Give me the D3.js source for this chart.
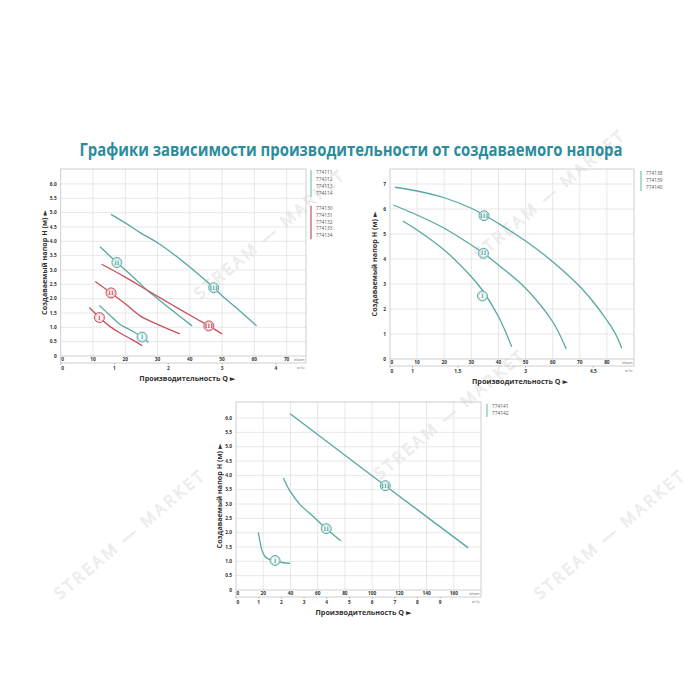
<!DOCTYPE html>
<html><head><meta charset="utf-8">
<script src="https://cdn.jsdelivr.net/npm/d3@7"></script>
<style>body{margin:0;background:#fff}svg{display:block}</style>
</head><body>
<svg id="c" width="700" height="700"></svg>
<script>
// ---------- DATA ----------
const titleText = "Графики зависимости производительности от создаваемого напора";
const yLabelText = "Создаваемый напор H (м) ►";
const xLabelText = "Производительность Q ►";
const unitLpm = "л/мин";
const unitM3h = "м³/ч";
const watermarkText = "STREAM — MARKET";

// Chart 1 (Q in l/min, H in m)
const c1LegendTeal = ["774111","774112","774113","774114"];
const c1LegendRed = ["774130","774131","774132","774133","774134"];
const c1YTicks = [0,0.5,1,1.5,2,2.5,3,3.5,4,4.5,5,5.5,6];
const c1XTicks = [0,10,20,30,40,50,60,70];
const c1M3Ticks = [0,1,2,3,4];
const c1TealI   = [[12,1.76],[15,1.45],[18.4,1.1],[22,0.88],[25.2,0.66],[27.2,0.47]];
const c1TealII  = [[12.2,3.81],[17.4,3.26],[22,2.8],[26.7,2.3],[30,2.0],[35,1.55],[40.7,1.05]];
const c1TealIII = [[15.6,4.94],[20,4.64],[24.6,4.3],[30,3.95],[35,3.55],[40,3.1],[47.4,2.38],[50,2.1],[55.7,1.55],[60.7,1.05]];
const c1RedI    = [[8.9,1.69],[12,1.34],[15,1.05],[18.4,0.8],[22,0.58],[25.2,0.36]];
const c1RedII   = [[10.7,2.6],[15.6,2.2],[20,1.82],[24.6,1.4],[30,1.1],[36.9,0.77]];
const c1RedIII  = [[12.7,3.2],[20,2.75],[26.7,2.3],[35,1.75],[42,1.3],[45.9,1.05],[50,0.77]];
const c1Labels  = [["I",25.2,0.66,"teal"],["II",17.4,3.26,"teal"],["III",47.4,2.38,"teal"],
                   ["I",12,1.34,"red"],["II",15.6,2.2,"red"],["III",45.9,1.05,"red"]];

// Chart 2
const c2Legend = ["774138","774139","774140"];
const c2YTicks = [0,1,2,3,4,5,6,7];
const c2XTicks = [0,10,20,30,40,50,60,70,80];
const c2M3Ticks = [0,0.5,1.5,3,4.5];
const c2M3Labels = ["0","1","1.5","3","4.5"];
const c2I   = [[4.7,5.52],[10,5.16],[20,4.36],[30,3.29],[34.1,2.75],[40,1.7],[44.9,0.49]];
const c2II  = [[1.2,6.16],[10,5.76],[20,5.23],[30,4.56],[34.5,4.23],[40,3.76],[50,2.83],[60,1.49],[65,0.4]];
const c2III = [[1.8,6.87],[10,6.72],[20,6.45],[30,6.03],[34.7,5.76],[40,5.42],[50,4.72],[60,3.89],[70,2.9],[75,2.28],[80,1.55],[83,1.04],[85.5,0.43]];
const c2Labels = [["I",34.1,2.52],["II",34.5,4.23],["III",34.7,5.73]];

// Chart 3
const c3Legend = ["774141","774142"];
const c3YTicks = [0,0.5,1,1.5,2,2.5,3,3.5,4,4.5,5,5.5,6];
const c3XTicks = [0,20,40,60,80,100,120,140,160];
const c3M3Ticks = [0,1,2,3,4,5,6,7,8,9];
const c3I   = [[16.4,2.01],[17.6,1.7],[18.9,1.41],[21.3,1.17],[24,1.08],[28.7,1.03],[34,0.96],[39.8,0.93]];
const c3II  = [[34.8,3.91],[39.8,3.44],[47.1,2.98],[56,2.6],[66.3,2.14],[77,1.72]];
const c3III = [[39.8,6.15],[109.7,3.64],[170.6,1.47]];
const c3Labels = [["I",28.7,1.03],["II",66.3,2.14],["III",109.7,3.64]];

// ---------- STYLE ----------
const TEAL = "#58a8a2", RED = "#c8505c", GRID = "#e2e2e2", FRAME = "#c4c4c4", TXT = "#333";
const svg = d3.select("#c");
const FONT = "'Open Sans', 'DejaVu Sans', sans-serif";

// watermarks (faint outline text)
const wm = svg.append("g").attr("fill","none").attr("stroke","#e3e3e3").attr("stroke-width",0.6)
  .attr("font-family",FONT).attr("font-size",16).attr("letter-spacing",3);
[[200,300,-40],[480,260,-40],[60,600,-40],[380,480,-40],[540,600,-40]].forEach(([x,y,r])=>{
  wm.append("text").attr("transform",`translate(${x},${y}) rotate(${r})`).text(watermarkText);
});

svg.append("text").attr("x",351).attr("y",156).attr("text-anchor","middle")
  .attr("font-family",FONT).attr("font-weight",700).attr("font-size",17)
  .attr("fill","#2b8c9e").attr("textLength",543).attr("lengthAdjust","spacingAndGlyphs")
  .text(titleText);

function chart(cfg){
  const g = svg.append("g");
  const x = d3.scaleLinear().domain(cfg.xDom).range([cfg.L, cfg.R]);
  const y = d3.scaleLinear().domain(cfg.yDom).range([cfg.B, cfg.T]);
  const band = cfg.B + 7;
  g.selectAll(".hg").data(cfg.yGrid).join("line").attr("x1",cfg.L).attr("x2",cfg.R)
    .attr("y1",d=>y(d)).attr("y2",d=>y(d)).attr("stroke",GRID).attr("stroke-width",0.8);
  g.selectAll(".vg").data(cfg.xGrid).join("line").attr("y1",cfg.T).attr("y2",cfg.B)
    .attr("x1",d=>x(d)).attr("x2",d=>x(d)).attr("stroke",GRID).attr("stroke-width",0.8);
  g.append("rect").attr("x",cfg.L).attr("y",cfg.T).attr("width",cfg.R-cfg.L).attr("height",band-cfg.T)
    .attr("fill","none").attr("stroke",FRAME).attr("stroke-width",0.8);
  g.append("line").attr("x1",cfg.L).attr("x2",cfg.R).attr("y1",cfg.B).attr("y2",cfg.B)
    .attr("stroke",FRAME).attr("stroke-width",0.8);
  const fs = 4.8;
  g.selectAll(".yt").data(cfg.yTicks).join("text").attr("x",cfg.L-4).attr("y",d=>y(d)+1.7)
    .attr("text-anchor","end").attr("font-family",FONT).attr("font-weight",700).attr("font-size",fs)
    .attr("fill",TXT).text(d=>d===0?"0":cfg.yFmt(d));
  g.selectAll(".xt").data(cfg.xTicks).join("text").attr("x",d=>x(d)+(d===0?0.5:0)).attr("y",cfg.B+5)
    .attr("text-anchor",d=>d===0?"start":"middle").attr("font-family",FONT).attr("font-weight",700)
    .attr("font-size",fs).attr("fill",TXT).text(d=>d);
  g.append("text").attr("x",cfg.R-1.5).attr("y",cfg.B+5).attr("text-anchor","end").attr("font-family",FONT)
    .attr("font-size",3.6).attr("fill","#666").text(unitLpm);
  const m3 = v => x(v*1000/60);
  g.selectAll(".mt").data(cfg.m3Ticks).join("line").attr("x1",d=>m3(d)).attr("x2",d=>m3(d))
    .attr("y1",band).attr("y2",band+1.8).attr("stroke","#999").attr("stroke-width",0.6);
  g.selectAll(".mtl").data(cfg.m3Ticks).join("text").attr("x",d=>m3(d)+(d===0?0.5:0)).attr("y",band+7)
    .attr("text-anchor",d=>d===0?"start":"middle").attr("font-family",FONT).attr("font-weight",700)
    .attr("font-size",fs).attr("fill",TXT).text((d,i)=>cfg.m3Labels?cfg.m3Labels[i]:d);
  g.append("text").attr("x",cfg.R-1.5).attr("y",band+5.5).attr("text-anchor","end").attr("font-family",FONT)
    .attr("font-size",3.6).attr("fill","#666").text(unitM3h);
  g.append("text").attr("x",(cfg.L+cfg.R)/2 + cfg.xTitleShift).attr("y",band+17.5).attr("text-anchor","middle")
    .attr("font-family",FONT).attr("font-weight",700).attr("font-size",7.2).attr("fill",TXT).text(xLabelText);
  g.append("text").attr("transform",`translate(${cfg.yTitleX},${(cfg.T+cfg.B)/2}) rotate(-90)`)
    .attr("text-anchor","middle").attr("font-family",FONT).attr("font-weight",700).attr("font-size",7.2)
    .attr("fill",TXT).text(yLabelText);
  const line = d3.line().x(d=>x(d[0])).y(d=>y(d[1])).curve(d3.curveCatmullRom.alpha(0.5));
  cfg.curves.forEach(c=>{
    g.append("path").attr("d",line(c.data)).attr("fill","none").attr("stroke",c.color).attr("stroke-width",1.3);
  });
  cfg.labels.forEach(l=>{
    const col = l[3]==="red"?RED:TEAL;
    g.append("circle").attr("cx",x(l[1])).attr("cy",y(l[2])).attr("r",5).attr("fill","#fff")
      .attr("stroke",col).attr("stroke-width",1);
    g.append("circle").attr("cx",x(l[1])).attr("cy",y(l[2])).attr("r",3.9).attr("fill","none")
      .attr("stroke",col).attr("stroke-width",0.4);
    g.append("text").attr("x",x(l[1])).attr("y",y(l[2])+2.1).attr("text-anchor","middle")
      .attr("font-family","'DejaVu Serif', serif").attr("font-weight",700).attr("font-size",5.8).attr("fill",col).text(l[0]);
  });
  cfg.legends.forEach(lg=>{
    const n = lg.items.length;
    g.append("line").attr("x1",lg.x).attr("x2",lg.x).attr("y1",lg.y-4).attr("y2",lg.y+(n-1)*lg.dy+2)
      .attr("stroke",lg.color).attr("stroke-width",1.2);
    g.selectAll(null).data(lg.items).join("text").attr("x",lg.x+5).attr("y",(d,i)=>lg.y+i*lg.dy)
      .attr("font-family",FONT).attr("font-size",4.8).attr("fill","#555").text(d=>d);
  });
}

const f1 = d3.format(".1f");
chart({L:60.7,R:306,T:169,B:356,xDom:[0,76],yDom:[0,6.52],
  yGrid:d3.range(0.5,6.01,0.5),xGrid:d3.range(10,71,10),yTicks:c1YTicks,xTicks:c1XTicks,m3Ticks:c1M3Ticks,
  yFmt:f1,xTitleShift:4,yTitleX:47,
  curves:[{data:c1TealI,color:TEAL},{data:c1TealII,color:TEAL},{data:c1TealIII,color:TEAL},
          {data:c1RedI,color:RED},{data:c1RedII,color:RED},{data:c1RedIII,color:RED}],
  labels:c1Labels,
  legends:[{x:311,y:174,dy:7,items:c1LegendTeal,color:"#7cc2b8"},{x:311,y:210,dy:6.8,items:c1LegendRed,color:"#b65a63"}]});

chart({L:390,R:634,T:169,B:359,xDom:[0,90],yDom:[0,7.6],
  yGrid:d3.range(1,7.01,1),xGrid:d3.range(10,81,10),yTicks:c2YTicks,xTicks:c2XTicks,m3Ticks:c2M3Ticks,m3Labels:c2M3Labels,
  yFmt:d=>d,xTitleShift:8,yTitleX:377,
  curves:[{data:c2I,color:TEAL},{data:c2II,color:TEAL},{data:c2III,color:TEAL}],
  labels:c2Labels.map(d=>[...d,"teal"]),
  legends:[{x:641,y:175,dy:7,items:c2Legend,color:"#7cc2b8"}]});

chart({L:236,R:481,T:402,B:590,xDom:[0,180],yDom:[0,6.56],
  yGrid:d3.range(0.5,6.01,0.5),xGrid:d3.range(20,161,20),yTicks:c3YTicks,xTicks:c3XTicks,m3Ticks:c3M3Ticks,
  yFmt:f1,xTitleShift:5,yTitleX:222,
  curves:[{data:c3I,color:TEAL},{data:c3II,color:TEAL},{data:c3III,color:TEAL}],
  labels:c3Labels.map(d=>[...d,"teal"]),
  legends:[{x:487,y:408,dy:7,items:c3Legend,color:"#7cc2b8"}]});
</script>
</body></html>
